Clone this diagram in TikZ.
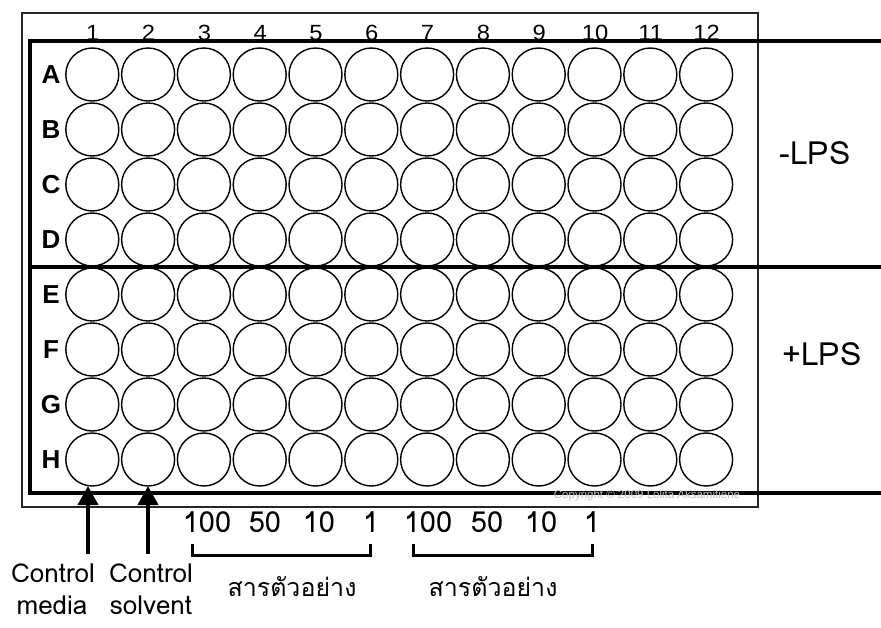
\documentclass[tikz,border=0pt]{standalone}
\usepackage{fontspec}
\setmainfont{Liberation Sans}
\newfontfamily\thaifont[Script=Thai]{Loma}
\usetikzlibrary{arrows.meta}
\begin{document}
\begin{tikzpicture}[x=1pt,y=-1pt,
  well/.style={circle, draw, line width=1.4pt, minimum size=53pt, inner sep=0pt},
  collab/.style={font=\fontsize{22}{22}\selectfont, anchor=base, inner sep=0pt, xscale=1.08},
  rowlab/.style={font=\bfseries\fontsize{26}{26}\selectfont, inner sep=0pt},
  platebox/.style={line width=1.5pt, draw=black!85},
  framelines/.style={line width=3.5pt, line join=miter},
  lps/.style={font=\thaifont\fontsize{32}{32}\selectfont, inner sep=0pt},
  num/.style={font=\thaifont\fontsize{29}{29}\selectfont, anchor=base, inner sep=0pt},
  bot/.style={font=\thaifont\fontsize{26}{26}\selectfont, anchor=base, inner sep=0pt},
  thai/.style={font=\thaifont\fontsize{25}{25}\selectfont, anchor=base, inner sep=0pt},
  bracketline/.style={line width=3pt},
  ctrarrow/.style={line width=4pt, -{Triangle[width=20pt,length=19pt]}},
  copytext/.style={font=\fontsize{11.5}{11.5}\selectfont, text=black!25, inner sep=0pt}
]
\useasboundingbox (0,0) rectangle (881,627);
% plate outline
\draw[platebox] (22,13) rectangle (758,507);
% thick frame lines
\draw[framelines] (881,41) -- (30,41) -- (30,493) -- (881,493);
\draw[framelines] (30,267) -- (881,267);
% wells
\foreach \r/\L [count=\ri from 0] in {1/A,2/B,3/C,4/D,5/E,6/F,7/G,8/H} {
  \node[rowlab] (row\L) at (51,74.5+55*\ri) {\L};
  \foreach \c [count=\ci from 0] in {1,...,12} {
    \node[well] (w\L\c) at (92.3+55.8*\ci,74.5+55*\ri) {};
  }
}
\foreach \c [count=\ci from 0] in {1,...,12} {
  \node[collab] (col\c) at (92.8+55.8*\ci,40.5) {\c};
}
\node[copytext] (copy) at (647,496) {Copyright © 2009 Lolita Aksamitiene};
% LPS labels
\node[lps] (minus) at (815,153) {-LPS};
\node[lps] (plus) at (822,354) {+LPS};
% concentrations
\node[num] (a100) at (207,532) {100};
\node[num] (a50) at (265,532) {50};
\node[num] (a10) at (319,532) {10};
\node[num] (a1) at (371,532) {1};
\node[num] (b100) at (428,532) {100};
\node[num] (b50) at (487,532) {50};
\node[num] (b10) at (541,532) {10};
\node[num] (b1) at (592,532) {1};
% brackets
\draw[bracketline] (192,544) -- (192,555) -- (370,555) -- (370,544);
\draw[bracketline] (413,544) -- (413,555) -- (592,555) -- (592,544);
\node[thai] (sa) at (292,596) {สารตัวอย่าง};
\node[thai] (sb) at (493,596) {สารตัวอย่าง};
% controls
\coordinate (c1a) at (88,554);
\coordinate (c1b) at (88,486);
\coordinate (c2a) at (148,554);
\coordinate (c2b) at (148,486);
\draw[ctrarrow] (c1a) -- (c1b);
\draw[ctrarrow] (c2a) -- (c2b);
\node[bot] (cm1) at (53,582) {Control};
\node[bot] (cm2) at (52,614) {media};
\node[bot] (cs1) at (151,582) {Control};
\node[bot] (cs2) at (151,614) {solvent};
\end{tikzpicture}
\end{document}
